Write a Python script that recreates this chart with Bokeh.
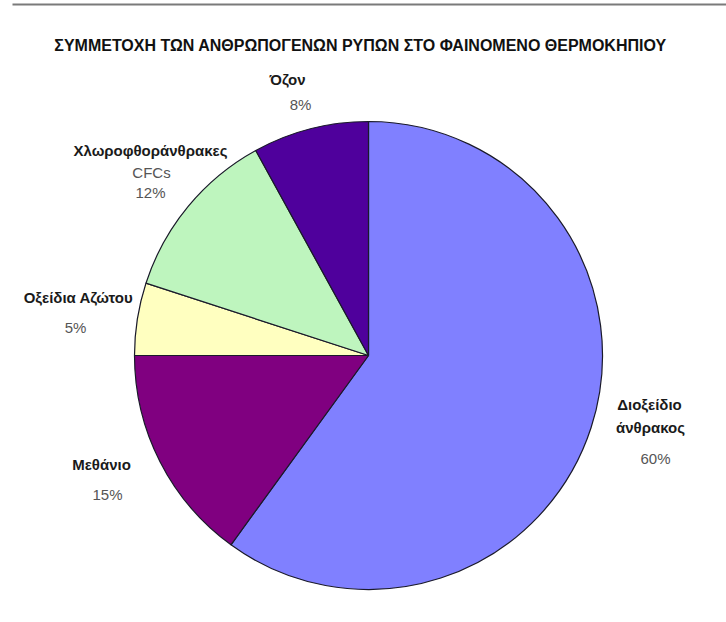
import math
from bokeh.plotting import figure
from bokeh.models import Range1d, ColumnDataSource
from bokeh.core.properties import value
from bokeh.embed import file_html
from bokeh.resources import INLINE

# ---- data ----
title_text = "ΣΥΜΜΕΤΟΧΗ ΤΩΝ ΑΝΘΡΩΠΟΓΕΝΩΝ ΡΥΠΩΝ ΣΤΟ ΦΑΙΝΟΜΕΝΟ ΘΕΡΜΟΚΗΠΙΟΥ"
categories = ["Διοξείδιο άνθρακος", "Μεθάνιο", "Οξείδια Αζώτου", "Χλωροφθοράνθρακες CFCs", "Όζον"]
shares = [60, 15, 5, 12, 8]
pct_labels = ["60%", "15%", "5%", "12%", "8%"]
colors = ["#8080FF", "#800080", "#FFFFC0", "#BEF5BE", "#4F009C"]

W, H = 726, 622
def Y(py):
    return H - py

p = figure(width=W, height=H, x_range=Range1d(0, W), y_range=Range1d(0, H),
           output_backend="svg", toolbar_location=None, min_border=0)
p.axis.visible = False
p.grid.visible = False
p.outline_line_color = None
p.background_fill_color = "white"
p.border_fill_color = "white"

# top rule
p.segment(x0=[12], y0=[Y(4)], x1=[W], y1=[Y(4)], line_color="#7a7a7a", line_width=2)

# pie
cx, cy, R = 368, Y(355), 234
total = sum(shares)
starts, ends = [], []
acc = 0
for s in shares:
    starts.append(math.pi / 2 - 2 * math.pi * acc / total)
    acc += s
    ends.append(math.pi / 2 - 2 * math.pi * acc / total)
src = ColumnDataSource(dict(start=starts, end=ends, color=colors, cat=categories))
p.wedge(x=cx, y=cy, radius=R, start_angle="start", end_angle="end", direction="clock",
        fill_color="color", line_color="#1a1a2a", line_width=1.2, source=src)

# title
p.text(x=[360], y=[Y(45)], text=[title_text], text_align="center", text_baseline="middle",
       text_font=value("Liberation Sans"), text_font_style="bold",
       text_font_size="16px", text_color="#111111")

# labels: name lines (bold), extra lines (regular), percentages (regular grey)
name_lines = [["Διοξείδιο", "άνθρακος"], ["Μεθάνιο"], ["Οξείδια Αζώτου"], ["Χλωροφθοράνθρακες"], ["Όζον"]]
name_pos = [[(649, 404), (650, 427)], [(101, 464)], [(78, 297)], [(150, 150)], [(287, 79)]]
extra_lines = [[], [], [], ["CFCs"], []]
extra_pos = [[], [], [], [(151, 172)], []]
pct_pos = [(655, 458), (107, 494), (75, 327), (150, 192), (300, 104)]

bx, by, bt = [], [], []
for lines, poss in zip(name_lines, name_pos):
    for t, (x, y) in zip(lines, poss):
        bx.append(x); by.append(Y(y)); bt.append(t)
p.text(x=bx, y=by, text=bt, text_align="center", text_baseline="middle",
       text_font=value("Liberation Sans"), text_font_style="bold",
       text_font_size="15px", text_color="#1a1a1a")

rx, ry, rt = [], [], []
for lines, poss in zip(extra_lines, extra_pos):
    for t, (x, y) in zip(lines, poss):
        rx.append(x); ry.append(Y(y)); rt.append(t)
for t, (x, y) in zip(pct_labels, pct_pos):
    rx.append(x); ry.append(Y(y)); rt.append(t)
p.text(x=rx, y=ry, text=rt, text_align="center", text_baseline="middle",
       text_font=value("Liberation Sans"), text_font_size="15px", text_color="#555555")

open("out.html", "w").write(file_html(p, INLINE))
